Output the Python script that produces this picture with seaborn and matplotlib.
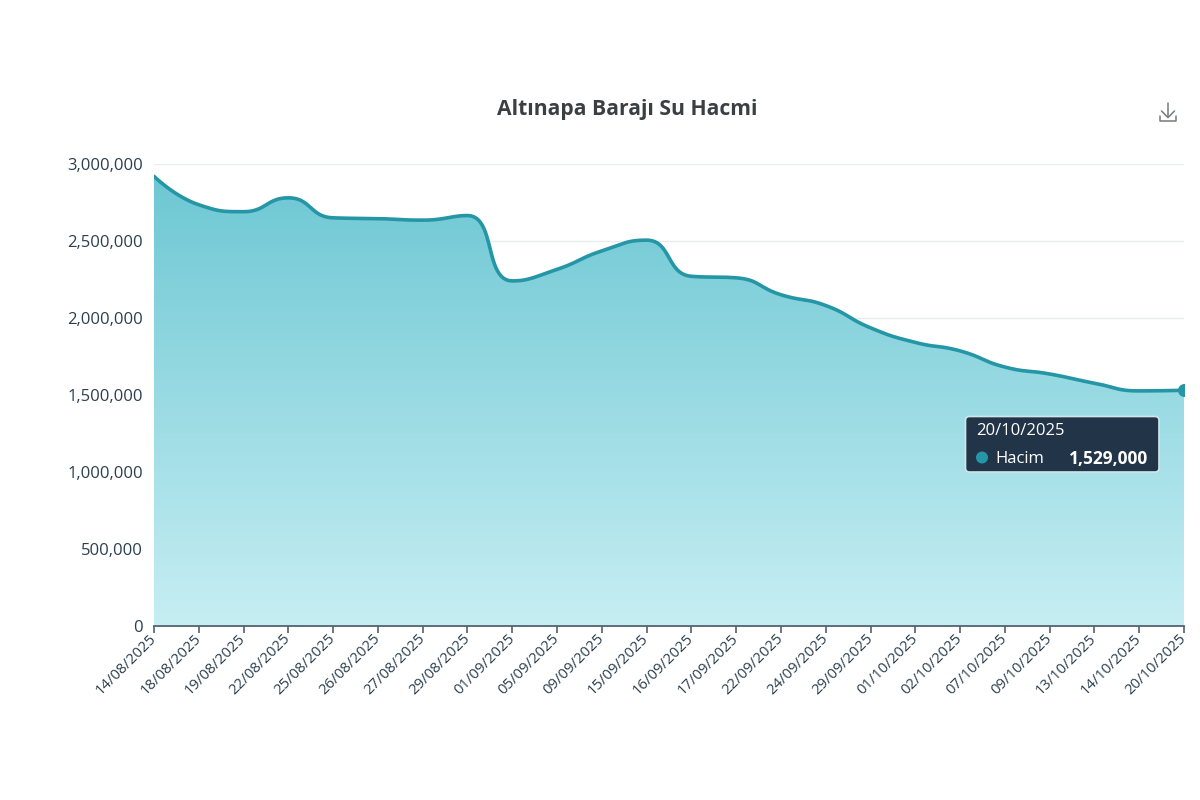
import numpy as np
import pandas as pd
import matplotlib
matplotlib.use("Agg")
import matplotlib.pyplot as plt
import seaborn as sns
from matplotlib.colors import LinearSegmentedColormap
from matplotlib.patches import FancyBboxPatch, Polygon, Circle
from matplotlib.lines import Line2D

dates = ["14/08/2025","18/08/2025","19/08/2025","22/08/2025","25/08/2025","26/08/2025",
         "27/08/2025","29/08/2025","01/09/2025","05/09/2025","09/09/2025","15/09/2025",
         "16/09/2025","17/09/2025","22/09/2025","24/09/2025","29/09/2025","01/10/2025",
         "02/10/2025","07/10/2025","09/10/2025","13/10/2025","14/10/2025","20/10/2025"]
volumes = [2920000,2735000,2690000,2780000,2650000,2645000,
           2635000,2665000,2240000,2315000,2435000,2505000,
           2270000,2260000,2150000,2080000,1935000,1840000,
           1785000,1680000,1635000,1575000,1525000,1529000]
y_ticks = [0,500000,1000000,1500000,2000000,2500000,3000000]
title = "Altınapa Barajı Su Hacmi"
series_name = "Hacim"

FONT = "Open Sans"
sns.set_theme(style="white")
plt.rcParams["font.family"] = [FONT, "DejaVu Sans"]

W, H = 1200, 800
fig = plt.figure(figsize=(W/100, H/100), dpi=100, facecolor="white")
L, R, T, B = 154, 1184, 164, 625.5
ax = fig.add_axes([L/W, 1-B/H, (R-L)/W, (B-T)/H])

n = len(dates)
xs = np.arange(n, dtype=float)
ys = np.array(volumes, dtype=float)
ax.set_xlim(0, n-1)
ax.set_ylim(0, 3000000)

def smooth_curve(x, y, smooth=0.5, steps=24):
    """Bezier smoothing through the data points, with control points held inside each segment."""
    sx = (R-L)/(n-1); sy = (B-T)/3000000
    P = np.column_stack([x*sx, y*sy])
    m = len(P)
    out = []
    cp0 = P[0].copy()
    for i in range(m-1):
        p, q = P[i], P[i+1]
        if i+2 < m:
            r = P[i+2]
            v = r-p
            l0 = np.hypot(*(q-p)); l1 = np.hypot(*(r-q))
            ratio = l1/(l0+l1)
            cp1 = q - v*smooth*(1-ratio)
            cp2next = q + v*smooth*ratio
            cp1[1] = np.clip(cp1[1], min(p[1], q[1]), max(p[1], q[1]))
            cp2next[1] = np.clip(cp2next[1], min(q[1], r[1]), max(q[1], r[1]))
            d1 = q-cp1; d2 = cp2next-q
            if abs(v[0]) > 0:
                slope = min(abs(d1[1])/max(abs(d1[0]),1e-9), abs(d2[1])/max(abs(d2[0]),1e-9))*np.sign(v[1])
                cp1[1] = q[1]-slope*d1[0]
                cp2next[1] = q[1]+slope*d2[0]
        else:
            cp1 = q.copy(); cp2next = q.copy()
        t = np.linspace(0, 1, steps, endpoint=False)[:, None]
        out.append((1-t)**3*p + 3*(1-t)**2*t*cp0 + 3*(1-t)*t**2*cp1 + t**3*q)
        cp0 = cp2next
    out.append(P[-1:])
    C = np.vstack(out)
    return C[:, 0]/sx, C[:, 1]/sy

cx, cy = smooth_curve(xs, ys)
curve = pd.DataFrame({"x": cx, "y": cy})

# gradient area
cmap = LinearSegmentedColormap.from_list("area", ["#c6eef3", "#6cc7d3"])
grad = np.linspace(0, 1, 256)[:, None]*(3000000/2950000)
im = ax.imshow(grad, cmap=cmap, vmin=0, vmax=1, origin="lower", aspect="auto",
               extent=[0, n-1, 0, 3000000], zorder=2, interpolation="bilinear")
poly = Polygon(np.column_stack([np.r_[cx, cx[-1], cx[0]], np.r_[cy, 0, 0]]),
               closed=True, transform=ax.transData, fc="none", ec="none")
ax.add_patch(poly)
im.set_clip_path(poly)

# grid
ax.set_yticks(y_ticks)
ax.set_xticks(xs)
ax.set_yticklabels([f"{v:,}" for v in y_ticks], fontsize=12, color="#2b3f4f")
ax.set_xticklabels(dates, rotation=45, ha="right", va="center", rotation_mode="anchor",
                   fontsize=10.7, color="#2b3f4f")
ax.grid(axis="y", color="#e9ecee", lw=1, zorder=1)
ax.set_axisbelow(True)
ax.set_xlabel(""); ax.set_ylabel("")
for s in ["top", "right", "left"]:
    ax.spines[s].set_visible(False)
ax.spines["bottom"].set_color("#50626f")
ax.spines["bottom"].set_linewidth(1.3)
ax.spines["bottom"].set_zorder(5)
ax.tick_params(axis="x", length=5, width=1.2, color="#50626f", pad=3, bottom=True)
ax.tick_params(axis="y", length=0, pad=8)

# line and end marker
sns.lineplot(data=curve, x="x", y="y", ax=ax, color="#2596a6", lw=2.6, zorder=4,
             estimator=None, sort=False, legend=False)
ax.set_xlabel(""); ax.set_ylabel("")
sns.scatterplot(x=[xs[-1]], y=[ys[-1]], ax=ax, color="#2596a6", s=75, zorder=5,
                edgecolor="#2596a6", legend=False)
ax.set_xlabel(""); ax.set_ylabel("")

# title
fig.text(627/W, 1-109.5/H, title, ha="center", va="center", fontsize=15.2,
         fontweight="bold", color="#3c3f42")

# tooltip (pixel positions on an overlay)
ov = fig.add_axes([0, 0, 1, 1], facecolor="none")
ov.set_xlim(0, W); ov.set_ylim(H, 0); ov.axis("off")
ov.add_patch(FancyBboxPatch((965.5, 416.5), 193.5, 55.5, boxstyle="round,pad=0,rounding_size=4",
                            fc="#223548", ec="#cfe6ec", lw=1.2))
ov.text(976, 431, dates[-1], color="white", fontsize=12, va="center", ha="left")
ov.add_patch(Circle((982, 457.5), 6, fc="#2596a6", ec="none"))
ov.text(995, 459, series_name, color="white", fontsize=12, va="center", ha="left")
ov.text(1148, 459, f"{volumes[-1]:,}", color="white", fontsize=12.5, fontweight="bold",
        va="center", ha="right")

# download icon
icon = "#777b7f"
for xx, yy in [([1168, 1168], [103, 117]), ([1161.5, 1168, 1174.5], [111, 117.5, 111]),
               ([1160, 1160, 1176, 1176], [116, 121, 121, 116])]:
    ov.add_line(Line2D(xx, yy, color=icon, lw=1.1))

fig.savefig("out.png", dpi=100, facecolor="white")
